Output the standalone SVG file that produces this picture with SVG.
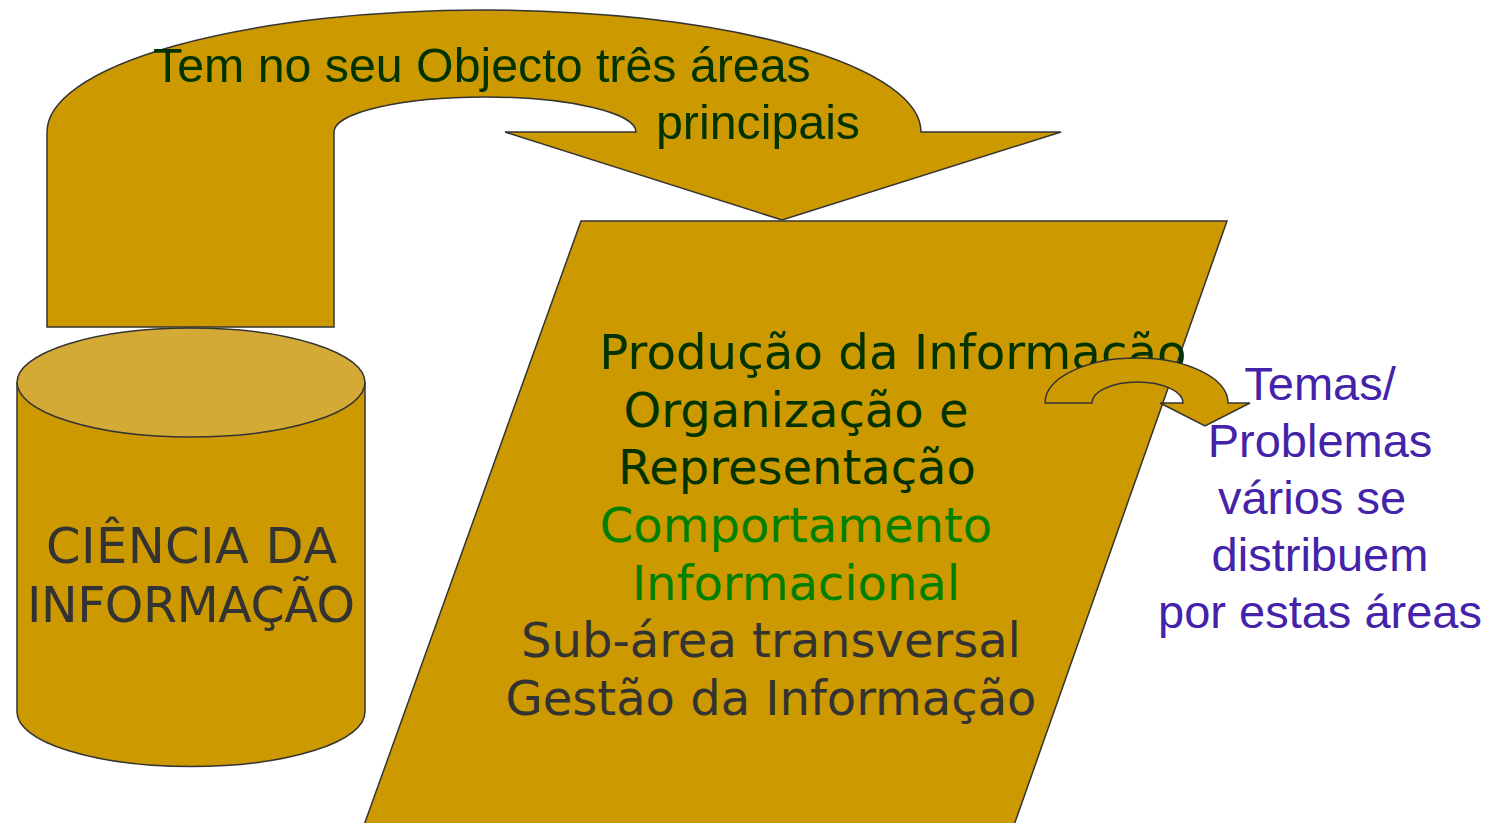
<svg xmlns="http://www.w3.org/2000/svg" width="1506" height="823" viewBox="0 0 1506 823">
<style>
.shape{fill:#CC9900;stroke:#333333;stroke-width:1.5;stroke-linejoin:miter}
.top{fill:#D4AA36;stroke:#333333;stroke-width:1.5}
.arial{font-family:"Liberation Sans",Arial,sans-serif}
.dejavu{font-family:"DejaVu Sans",Verdana,sans-serif;font-size:48px}
.dkgreen{fill:#003300}
.green{fill:#008000}
.grey{fill:#333333}
.purple{fill:#4422AA}
</style>
<rect width="1506" height="823" fill="#FFFFFF"/>
<g id="connectors">
<path id="big-arrow" class="shape" d="M 47,327 L 47,132 A 437,122 0 0 1 921,132 L 1061,132 L 782,220 L 505,132 L 636,132 A 151,35 0 0 0 334,132 L 334,327 Z"/>
</g>
<g id="label-top" class="arial dkgreen" font-size="48.3">
<text x="153" y="82">Tem no seu Objecto três áreas</text>
<text x="656" y="139">principais</text>
</g>
<g id="cylinder">
<path class="shape" d="M 17,382 L 17,712 A 174,54.5 0 0 0 365,712 L 365,382"/>
<ellipse class="top" cx="191" cy="382.5" rx="174" ry="54.5"/>
<text class="dejavu grey" x="191.5" y="563" text-anchor="middle" style="font-size:49.5px" textLength="291">CIÊNCIA DA</text>
<text class="dejavu grey" x="191" y="622" text-anchor="middle" style="font-size:49px" textLength="328">INFORMAÇÃO</text>
</g>
<g id="areas">
<polygon class="shape" points="581,221 1227,221 1013,828 363,828"/>
<text class="dejavu dkgreen" x="893" y="369" text-anchor="middle" style="font-size:48.3px">Produção da Informação</text>
<text class="dejavu dkgreen" x="796" y="427" text-anchor="middle">Organização e</text>
<text class="dejavu dkgreen" x="797" y="484" text-anchor="middle">Representação</text>
<text class="dejavu green" x="796" y="542" text-anchor="middle">Comportamento</text>
<text class="dejavu green" x="796" y="600" text-anchor="middle">Informacional</text>
<text class="dejavu grey" x="771" y="657" text-anchor="middle">Sub-área transversal</text>
<text class="dejavu grey" x="771" y="715" text-anchor="middle">Gestão da Informação</text>
</g>
<g id="connectors-small">
<path id="small-arrow" class="shape" d="M 1045,403 A 91.5,45 0 0 1 1228,403 L 1250,403 L 1205,426 L 1160,403 L 1183,403 A 45.5,21 0 0 0 1092,403 Z"/>
</g>
<g id="themes" class="arial purple" font-size="47" text-anchor="middle">
<text x="1320" y="400">Temas/</text>
<text x="1320" y="457">Problemas</text>
<text x="1312" y="514">vários se</text>
<text x="1320" y="571">distribuem</text>
<text x="1320" y="628">por estas áreas</text>
</g>
</svg>
